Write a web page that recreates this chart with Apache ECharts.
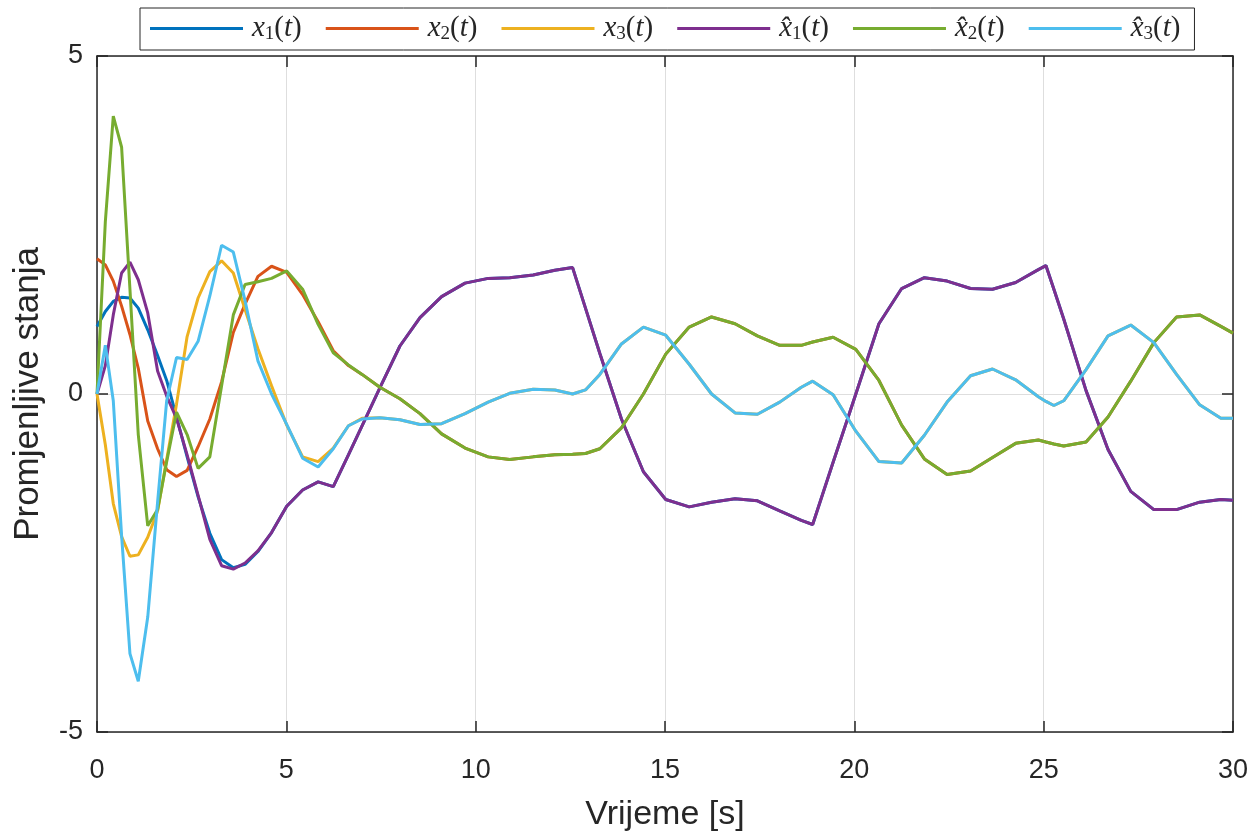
<!DOCTYPE html>
<html lang="hr">
<head>
<meta charset="UTF-8">
<title>Promjenljive stanja</title>
<script src="https://cdn.jsdelivr.net/npm/echarts@6/dist/echarts.min.js"></script>
<style>
  html, body { margin: 0; padding: 0; background: #fff; }
  #chart { width: 1251px; height: 837px; }
</style>
</head>
<body>
<div id="chart"></div>
<script>
// vremenski trenuci [s]
var t = [0, 0.22, 0.43, 0.65, 0.87, 1.09, 1.34, 1.6, 1.84, 2.1,
  2.38, 2.67, 2.98, 3.29, 3.6, 3.91, 4.25, 4.61, 5.01, 5.43,
  5.84, 6.24, 6.64, 7.0, 7.47, 8.0, 8.53, 9.1, 9.72, 10.33,
  10.9, 11.52, 12.09, 12.56, 12.9, 13.28, 13.85, 14.43, 15.02, 15.64,
  16.23, 16.85, 17.44, 18.03, 18.6, 18.9, 19.44, 20.04, 20.65, 21.25,
  21.85, 22.45, 23.07, 23.65, 24.26, 24.86, 25.06, 25.27, 25.53, 26.12,
  26.7, 27.3, 27.91, 28.51, 29.12, 29.68, 30];

// stvarna stanja
var x1 = [1.0, 1.22, 1.37, 1.43, 1.42, 1.27, 0.95, 0.57, 0.2, -0.34,
  -0.93, -1.52, -2.06, -2.45, -2.57, -2.52, -2.33, -2.05, -1.66, -1.42,
  -1.3, -1.37, -0.9, -0.47, 0.09, 0.71, 1.13, 1.44, 1.64, 1.71,
  1.72, 1.76, 1.83, 1.87, 1.27, 0.6, -0.37, -1.15, -1.56, -1.67,
  -1.6, -1.55, -1.58, -1.73, -1.87, -1.93, -1.01, 0.0, 1.04, 1.56,
  1.72, 1.67, 1.56, 1.55, 1.65, 1.84, 1.9, 1.55, 1.11, 0.05,
  -0.82, -1.44, -1.71, -1.71, -1.6, -1.56, -1.57];
var x2 = [2.0, 1.91, 1.67, 1.3, 0.88, 0.38, -0.4, -0.81, -1.12, -1.22,
  -1.13, -0.78, -0.37, 0.18, 0.91, 1.33, 1.74, 1.89, 1.8, 1.47,
  1.07, 0.64, 0.42, 0.29, 0.1, -0.07, -0.29, -0.59, -0.8, -0.93,
  -0.97, -0.93, -0.9, -0.89, -0.88, -0.81, -0.5, 0.0, 0.59, 0.99,
  1.14, 1.04, 0.86, 0.72, 0.72, 0.77, 0.84, 0.66, 0.2, -0.46,
  -0.96, -1.19, -1.14, -0.94, -0.73, -0.68, -0.71, -0.74, -0.77, -0.71,
  -0.34, 0.19, 0.76, 1.14, 1.17, 1.0, 0.9];
var x3 = [0, -0.75, -1.62, -2.11, -2.4, -2.38, -2.12, -1.73, -0.97, -0.15,
  0.85, 1.42, 1.81, 1.97, 1.79, 1.25, 0.67, 0.12, -0.46, -0.93,
  -1.0, -0.8, -0.47, -0.36, -0.35, -0.38, -0.45, -0.44, -0.29, -0.12,
  0.01, 0.07, 0.06, 0.0, 0.06, 0.29, 0.74, 0.99, 0.87, 0.44,
  0.0, -0.28, -0.3, -0.12, 0.1, 0.19, -0.01, -0.55, -1.0, -1.02,
  -0.61, -0.12, 0.27, 0.37, 0.21, -0.04, -0.11, -0.17, -0.1, 0.36,
  0.86, 1.02, 0.76, 0.29, -0.16, -0.36, -0.36];

// procijenjena stanja
var xh1 = [0, 0.42, 1.17, 1.79, 1.95, 1.69, 1.2, 0.34, -0.03, -0.36,
  -0.9, -1.5, -2.15, -2.54, -2.59, -2.5, -2.32, -2.05, -1.66, -1.42,
  -1.3, -1.37, -0.9, -0.47, 0.09, 0.71, 1.13, 1.44, 1.64, 1.71,
  1.72, 1.76, 1.83, 1.87, 1.27, 0.6, -0.37, -1.15, -1.56, -1.67,
  -1.6, -1.55, -1.58, -1.73, -1.87, -1.93, -1.01, 0.0, 1.04, 1.56,
  1.72, 1.67, 1.56, 1.55, 1.65, 1.84, 1.9, 1.55, 1.11, 0.05,
  -0.82, -1.44, -1.71, -1.71, -1.6, -1.56, -1.57];
var xh2 = [0, 2.55, 4.11, 3.65, 1.55, -0.6, -1.95, -1.71, -1.0, -0.27,
  -0.6, -1.1, -0.93, 0.12, 1.17, 1.62, 1.66, 1.71, 1.82, 1.55,
  1.03, 0.61, 0.43, 0.29, 0.1, -0.07, -0.29, -0.59, -0.8, -0.93,
  -0.97, -0.93, -0.9, -0.89, -0.88, -0.81, -0.5, 0.0, 0.59, 0.99,
  1.14, 1.04, 0.86, 0.72, 0.72, 0.77, 0.84, 0.66, 0.2, -0.46,
  -0.96, -1.19, -1.14, -0.94, -0.73, -0.68, -0.71, -0.74, -0.77, -0.71,
  -0.34, 0.19, 0.76, 1.14, 1.17, 1.0, 0.9];
var xh3 = [0, 0.72, -0.1, -2.1, -3.84, -4.25, -3.3, -1.6, -0.1, 0.54,
  0.51, 0.78, 1.45, 2.2, 2.1, 1.38, 0.49, 0.0, -0.45, -0.95,
  -1.08, -0.81, -0.47, -0.37, -0.35, -0.38, -0.45, -0.44, -0.29, -0.12,
  0.01, 0.07, 0.06, 0.0, 0.06, 0.29, 0.74, 0.99, 0.87, 0.44,
  0.0, -0.28, -0.3, -0.12, 0.1, 0.19, -0.01, -0.55, -1.0, -1.02,
  -0.61, -0.12, 0.27, 0.37, 0.21, -0.04, -0.11, -0.17, -0.1, 0.36,
  0.86, 1.02, 0.76, 0.29, -0.16, -0.36, -0.36];

var names = ['x1', 'x2', 'x3', 'xh1', 'xh2', 'xh3'];
var values = [x1, x2, x3, xh1, xh2, xh3];
var colors = ['#0072BD', '#D95319', '#EDB120', '#7E2F8E', '#77AC30', '#4DBEEE'];
var xTicks = [0, 30, 5];
var yTicks = [-5, 5, 5];

var ink = '#262626';
var sans = '"Liberation Sans", Arial, Helvetica, sans-serif';
var serif = '"Liberation Serif", "Times New Roman", serif';

function pairs(ys) {
  return t.map(function (v, i) { return [v, ys[i]]; });
}

// legenda u LaTeX stilu: x_1(t), \hat{x}_1(t)
function legendLabel(name) {
  var hat = name.indexOf('xh') === 0;
  var idx = name.charAt(name.length - 1);
  return '{i|' + (hat ? 'x\u0302' : 'x') + '}{s|' + idx + '}{n|(}{i|t}{n|)}';
}

var chart = echarts.init(document.getElementById('chart'));

var frameLine = { show: true, onZero: false, lineStyle: { color: ink, width: 1.5 } };
var frameTick = { show: true, inside: true, length: 11, lineStyle: { color: ink, width: 1.5 } };

chart.setOption({
  animation: false,
  color: colors,
  grid: { left: 97, right: 18, top: 56, bottom: 100, containLabel: false },
  legend: {
    left: 140,
    top: 8,
    padding: [6, 14, 6, 10],
    icon: 'rect',
    itemWidth: 93,
    itemHeight: 3,
    itemGap: 24,
    borderColor: ink,
    borderWidth: 1,
    backgroundColor: '#fff',
    data: names,
    formatter: legendLabel,
    textStyle: {
      color: ink,
      padding: [0, 0, 0, 4],
      rich: {
        i: { fontFamily: serif, fontStyle: 'italic', fontSize: 29, lineHeight: 31, verticalAlign: 'middle' },
        n: { fontFamily: serif, fontSize: 29, lineHeight: 31, verticalAlign: 'middle' },
        s: { fontFamily: serif, fontSize: 19, lineHeight: 19, verticalAlign: 'bottom' }
      }
    }
  },
  xAxis: [{
    type: 'value',
    min: xTicks[0], max: xTicks[1], interval: xTicks[2],
    position: 'bottom',
    axisLine: frameLine,
    axisTick: frameTick,
    axisLabel: { color: ink, fontSize: 27, fontFamily: sans, margin: 25 },
    splitLine: { show: true, lineStyle: { color: '#dedede', width: 1 } },
    name: 'Vrijeme [s]',
    nameLocation: 'middle',
    nameGap: 66,
    nameTextStyle: { color: ink, fontSize: 34, fontFamily: sans }
  }, {
    type: 'value',
    min: xTicks[0], max: xTicks[1], interval: xTicks[2],
    position: 'top',
    axisLine: frameLine,
    axisTick: frameTick,
    axisLabel: { show: false },
    splitLine: { show: false }
  }],
  yAxis: [{
    type: 'value',
    min: yTicks[0], max: yTicks[1], interval: yTicks[2],
    position: 'left',
    axisLine: frameLine,
    axisTick: frameTick,
    axisLabel: { color: ink, fontSize: 27, fontFamily: sans, margin: 14 },
    splitLine: { show: true, lineStyle: { color: '#dedede', width: 1 } },
    name: 'Promjenljive stanja',
    nameLocation: 'middle',
    nameGap: 51,
    nameRotate: 90,
    nameTextStyle: { color: ink, fontSize: 35, fontFamily: sans }
  }, {
    type: 'value',
    min: yTicks[0], max: yTicks[1], interval: yTicks[2],
    position: 'right',
    axisLine: frameLine,
    axisTick: frameTick,
    axisLabel: { show: false },
    splitLine: { show: false }
  }],
  series: names.map(function (n, k) {
    return {
      name: n,
      type: 'line',
      xAxisIndex: 0,
      yAxisIndex: 0,
      data: pairs(values[k]),
      symbol: 'none',
      lineStyle: { width: 3, color: colors[k] },
      itemStyle: { color: colors[k] }
    };
  })
});
</script>
</body>
</html>
